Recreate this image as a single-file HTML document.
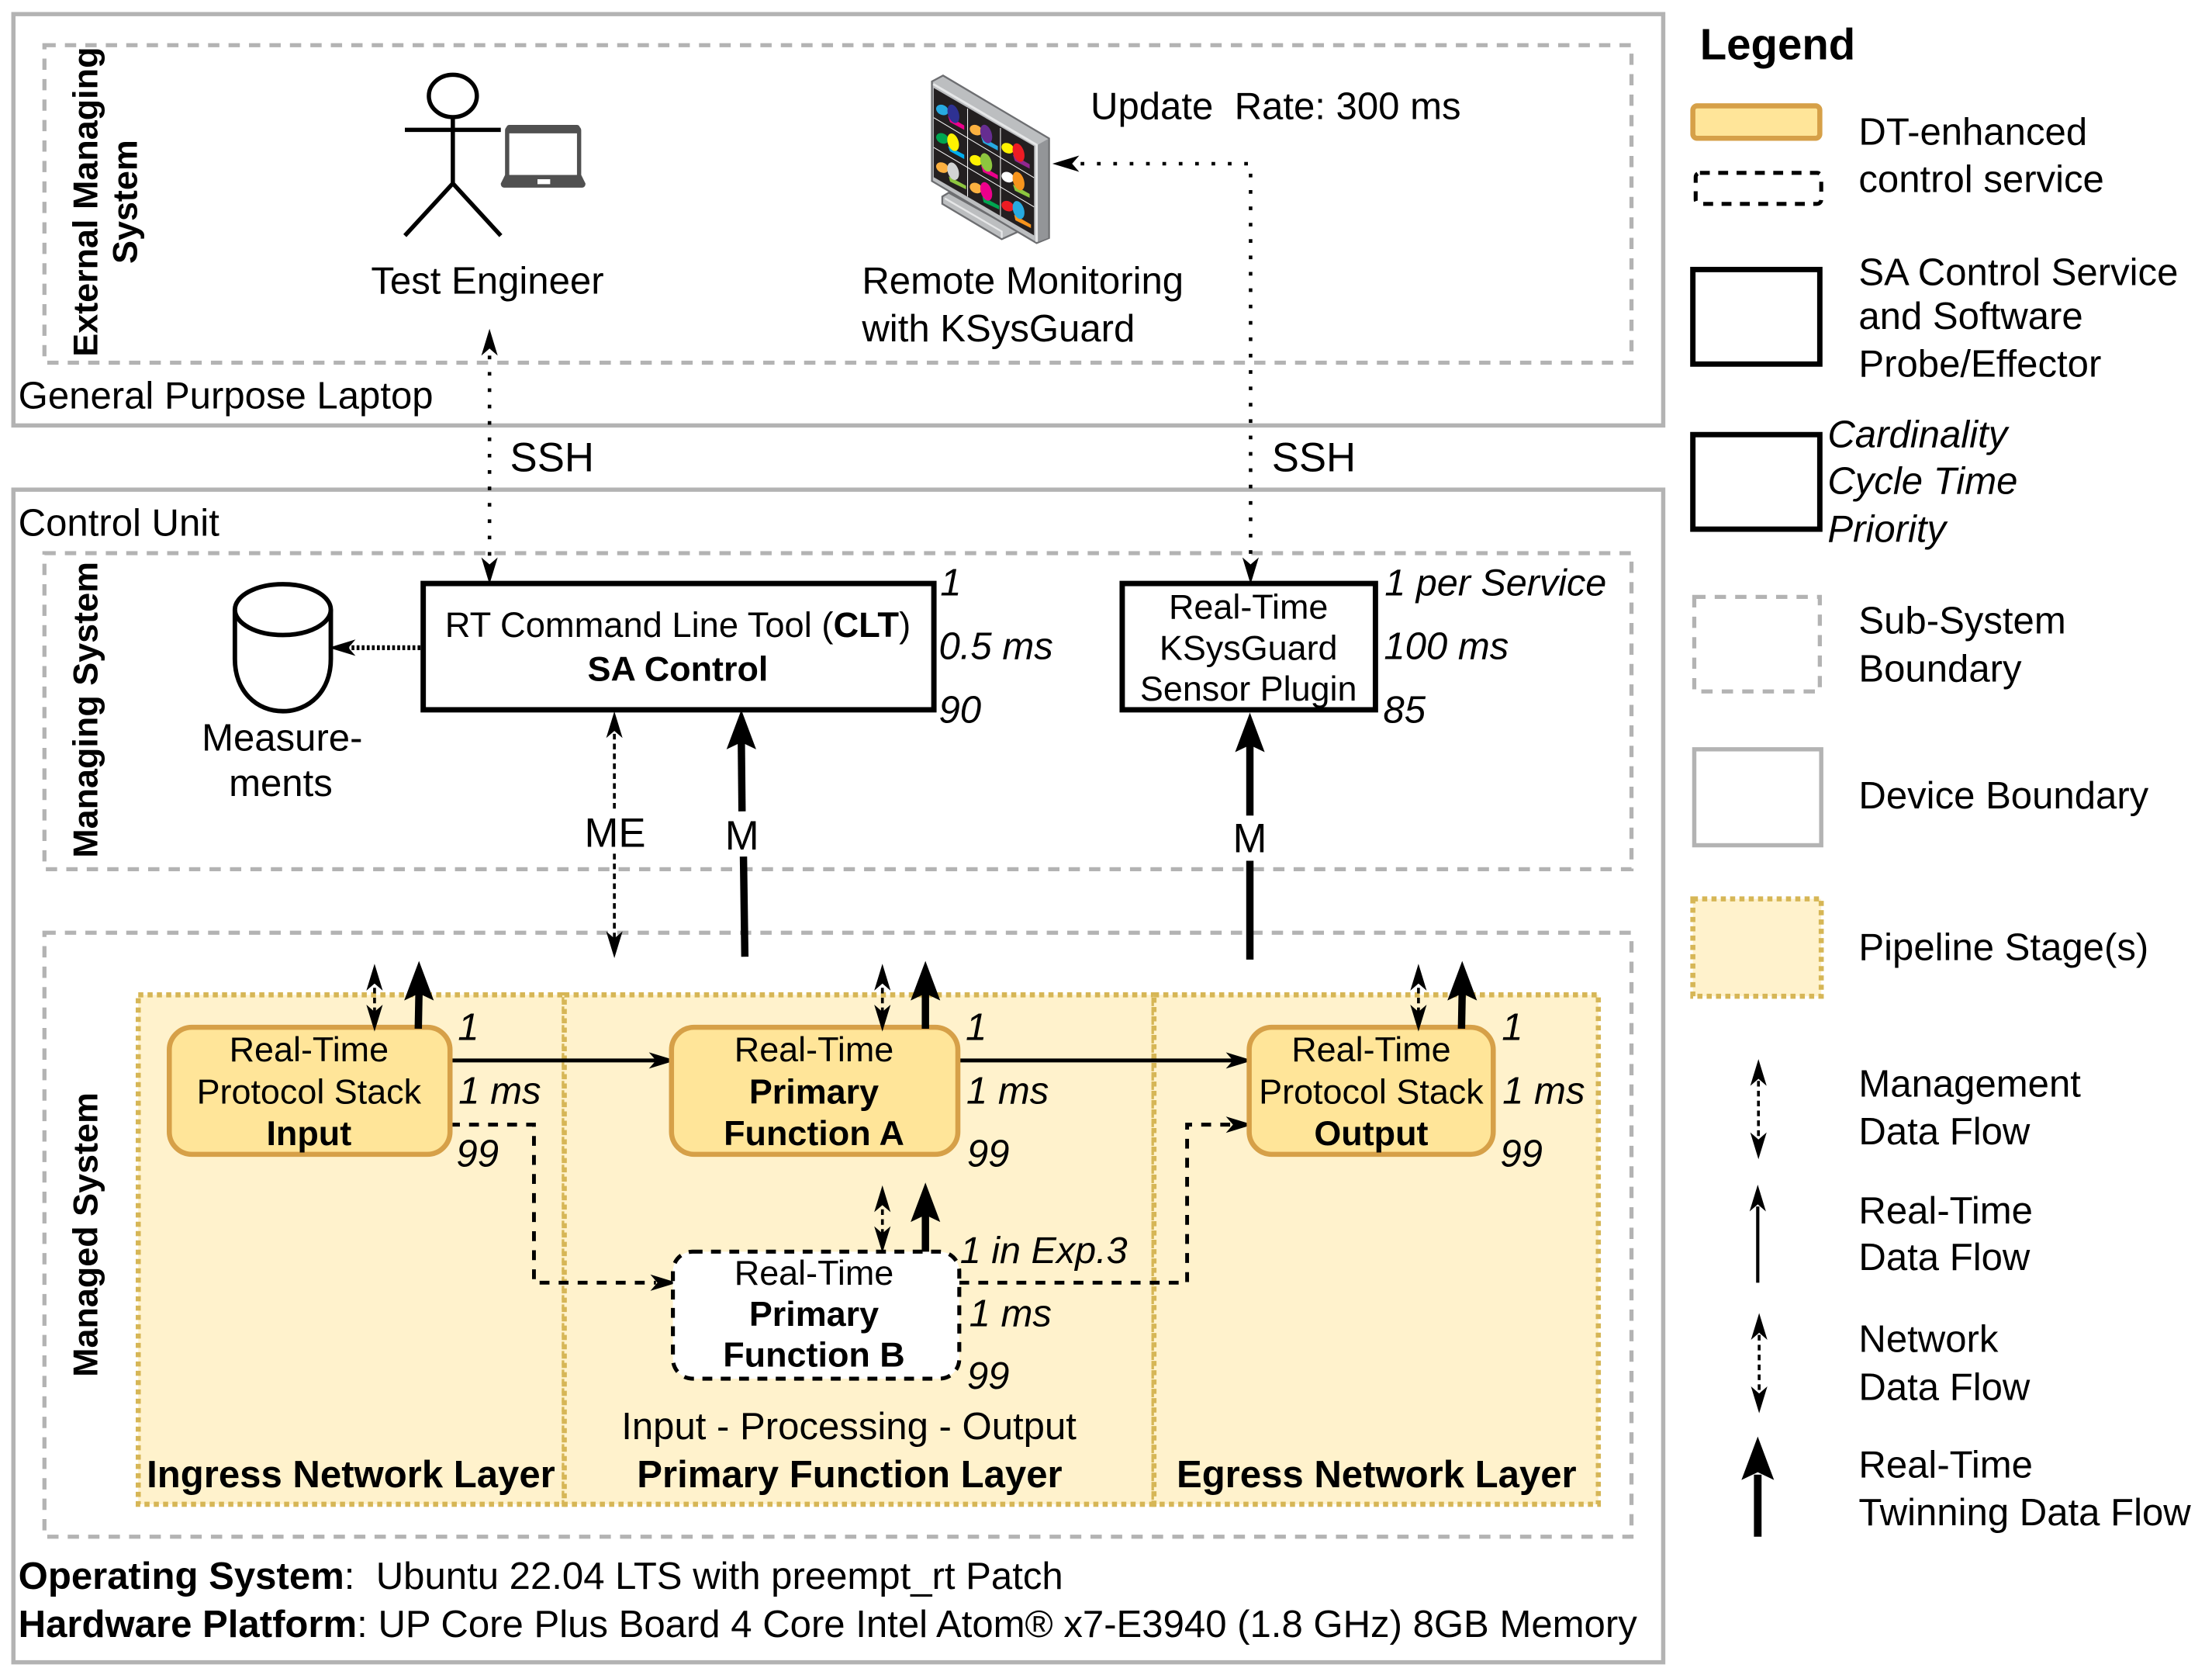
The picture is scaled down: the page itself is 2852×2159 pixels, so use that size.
<!DOCTYPE html>
<html><head><meta charset="utf-8"><style>
html,body{margin:0;padding:0;background:#fff}
svg{display:block}
text{font-family:"Liberation Sans",sans-serif;font-size:27px;fill:#000}
.b{font-weight:bold}
.i{font-style:italic}
.s{font-size:24.7px}
.m{text-anchor:middle}
.gb{fill:none;stroke:#b3b3b3;stroke-width:3}
.gd{fill:none;stroke:#b3b3b3;stroke-width:2.9;stroke-dasharray:8 6.5}
.pl{fill:#fff2cc;stroke:#d6b656;stroke-width:3.6;stroke-dasharray:3.6 3}
.sv{fill:#ffe599;stroke:#d6a048;stroke-width:3.6}
.bk{fill:#fff;stroke:#000;stroke-width:3.8}
.ln{fill:none;stroke:#000;stroke-width:2.7}
.da{fill:none;stroke:#000;stroke-width:2.7;stroke-dasharray:7 6.5}
.dot{fill:none;stroke:#000;stroke-width:2.5;stroke-dasharray:2.6 9}
.me{fill:none;stroke:#000;stroke-width:2;stroke-dasharray:4 3}
.th{fill:none;stroke:#000;stroke-width:5.2}
</style></head><body>
<svg xmlns="http://www.w3.org/2000/svg" width="2852" height="2159" viewBox="0 0 1568 1187">
<defs>
<path id="h" d="M0 0L5.8 19L0 14L-5.8 19Z"/>
<path id="H" d="M0 0L10.5 28L0 23L-10.5 28Z"/>
<g id="dbl"><line class="me" y1="10" y2="38" stroke="#000"/><use href="#h"/><use href="#h" transform="translate(0 48) rotate(180)"/></g>
</defs>
<rect width="1568" height="1187" fill="#fff"/>

<!-- boundaries -->
<rect class="gb" x="9.5" y="10" width="1169.5" height="291.500"/>
<rect class="gd" x="31.5" y="32" width="1125" height="225"/>
<rect class="gb" x="9.5" y="347" width="1169.5" height="831"/>
<rect class="gd" x="31.5" y="392" width="1125" height="224"/>
<rect class="gd" x="31.5" y="661" width="1125" height="428"/>

<!-- pipeline -->
<rect class="pl" x="98" y="705" width="302" height="361"/>
<rect class="pl" x="400" y="705" width="418" height="361"/>
<rect class="pl" x="818" y="705" width="315" height="361"/>

<!-- stick man -->
<g fill="none" stroke="#000" stroke-width="3">
<ellipse cx="321" cy="68" rx="17" ry="15"/>
<path d="M321 83V130M287 92H355M287 167L321 130L355 167"/>
</g>
<!-- laptop -->
<g>
<rect x="359.5" y="90.500" width="51" height="36" rx="2" fill="#fff" stroke="#505050" stroke-width="3"/>
<rect x="359" y="88.500" width="52" height="6" rx="2" fill="#505050"/>
<path d="M358 124H412L415 130Q415 133 412 133H358Q355 133 355 130Z" fill="#505050"/>
<rect x="381" y="127" width="9" height="3.500" fill="#fff"/>
</g>

<!-- monitor (coordinates from 3x crop) -->
<g transform="translate(648.7 44) scale(.18326)">
<path d="M105 520L130 505L400 655L335 685L105 548Z" fill="#bcbec0" stroke="#6d6e71" stroke-width="7"/>
<path d="M115 527L335 655V680" fill="none" stroke="#e6e7e8" stroke-width="7"/>
<path d="M65 75L108 52L518 295V680L470 700L65 460Z" fill="#bcbec0" stroke="#6d6e71" stroke-width="7"/>
<path d="M470 322L515 297V680L475 695Z" fill="#939598"/>
<path d="M70 85L470 320V695" fill="none" stroke="#e6e7e8" stroke-width="9"/>
<path d="M72 100L460 325V670L72 445Z" fill="#231f20"/>
<g stroke="#fff" stroke-width="3" fill="none">
<path d="M203 180V520M330 255V595M72 215L460 447M72 330L460 560"/>
</g>
<g id="c1">
<ellipse cx="105" cy="185" rx="25" ry="19" transform="rotate(28 105 185)" fill="#27aae1"/>
<path d="M127 208L190 245V262L135 232Z" fill="#ec008c"/>
<ellipse cx="148" cy="200" rx="21" ry="37" transform="rotate(-18 148 200)" fill="#2e3192"/>
</g>
<ellipse cx="235" cy="263" rx="25" ry="19" transform="rotate(28 235 263)" fill="#fbb040"/>
<path d="M255 288L320 325V342L263 312Z" fill="#27aae1"/>
<ellipse cx="275" cy="278" rx="21" ry="37" transform="rotate(-18 275 278)" fill="#662d91"/>
<ellipse cx="358" cy="333" rx="25" ry="19" transform="rotate(28 358 333)" fill="#fff200"/>
<path d="M378 358L443 395V412L386 382Z" fill="#92278f"/>
<ellipse cx="400" cy="350" rx="21" ry="37" transform="rotate(-18 400 350)" fill="#ed1c24"/>
<ellipse cx="105" cy="295" rx="25" ry="19" transform="rotate(28 105 295)" fill="#00a651"/>
<path d="M127 325L190 358V375L135 345Z" fill="#00aeef"/>
<ellipse cx="147" cy="310" rx="21" ry="35" transform="rotate(-18 147 310)" fill="#fff200"/>
<ellipse cx="235" cy="380" rx="25" ry="19" transform="rotate(28 235 380)" fill="#fff200"/>
<path d="M255 400L320 437V453L263 425Z" fill="#ec008c"/>
<ellipse cx="275" cy="388" rx="21" ry="37" transform="rotate(-18 275 388)" fill="#8dc63f"/>
<ellipse cx="358" cy="445" rx="25" ry="19" transform="rotate(28 358 445)" fill="#fff"/>
<path d="M378 473L443 510V525L386 497Z" fill="#8dc63f"/>
<ellipse cx="400" cy="460" rx="21" ry="37" transform="rotate(-18 400 460)" fill="#f7941d"/>
<ellipse cx="105" cy="408" rx="25" ry="19" transform="rotate(28 105 408)" fill="#fbb040"/>
<path d="M130 442L197 478V492L135 462Z" fill="#8dc63f"/>
<ellipse cx="147" cy="422" rx="21" ry="35" transform="rotate(-18 147 422)" fill="#d1d3d4"/>
<ellipse cx="235" cy="487" rx="25" ry="19" transform="rotate(28 235 487)" fill="#fbb040"/>
<path d="M260 520L325 555V570L265 542Z" fill="#00a651"/>
<ellipse cx="275" cy="500" rx="21" ry="37" transform="rotate(-18 275 500)" fill="#ec008c"/>
<ellipse cx="358" cy="557" rx="25" ry="19" transform="rotate(28 358 557)" fill="#ed1c24"/>
<path d="M383 590L448 628V642L388 612Z" fill="#f7941d"/>
<ellipse cx="400" cy="572" rx="21" ry="36" transform="rotate(-18 400 572)" fill="#27aae1"/>
</g>

<!-- SSH connectors -->
<line class="dot" x1="347" y1="252" x2="347" y2="400"/>
<use href="#h" transform="translate(347 233)"/>
<use href="#h" transform="translate(347 414) rotate(180)"/>
<path class="dot" d="M766 116H886.500V400"/>
<use href="#h" transform="translate(746 116) rotate(-90)"/>
<use href="#h" transform="translate(886.500 414) rotate(180)"/>

<!-- managing system -->
<rect class="bk" x="300" y="413.500" width="362" height="89.500"/>
<rect class="bk" x="795.500" y="413.500" width="179.500" height="89.500"/>
<g fill="#fff" stroke="#000" stroke-width="3.200">
<path d="M166.500 432V467C166.500 490 182 504 200.500 504C219 504 234.500 490 234.500 467V432"/>
<ellipse cx="200.500" cy="432" rx="34" ry="18"/>
</g>
<line x1="298" y1="459" x2="247" y2="459" stroke="#000" stroke-width="3.400" stroke-dasharray="2 1.600"/>
<use href="#h" transform="translate(233 459) rotate(-90)"/>

<line class="me" x1="435.500" y1="520" x2="435.500" y2="573"/>
<line class="me" x1="435.500" y1="605" x2="435.500" y2="665"/>
<use href="#h" transform="translate(435.500 504)"/>
<use href="#h" transform="translate(435.500 679) rotate(180)"/>

<line class="th" x1="525.500" y1="525" x2="526" y2="575"/>
<use href="#H" transform="translate(525.500 503)"/>
<line class="th" x1="527" y1="607" x2="528" y2="678"/>

<line class="th" x1="886" y1="525" x2="886" y2="578"/>
<use href="#H" transform="translate(886 505)"/>
<line class="th" x1="886" y1="610" x2="886" y2="680"/>

<!-- connectors in managed -->
<line class="ln" x1="319" y1="751.500" x2="465" y2="751.500"/>
<use href="#h" transform="translate(479 751.500) rotate(90)"/>
<line class="ln" x1="679" y1="751.500" x2="874" y2="751.500"/>
<use href="#h" transform="translate(888 751.500) rotate(90)"/>
<path class="da" d="M319 797H378.500V909H465"/>
<use href="#h" transform="translate(480 909) rotate(90)"/>
<path class="da" d="M680 909H841.500V797H874"/>
<use href="#h" transform="translate(888 797) rotate(90)"/>

<!-- services -->
<rect class="sv" x="120" y="728" width="199" height="90" rx="16"/>
<rect class="sv" x="476" y="728" width="203" height="90" rx="16"/>
<rect class="sv" x="885.500" y="728" width="173" height="90" rx="16"/>
<rect x="477" y="887" width="203" height="90" rx="14" fill="#fff" stroke="#000" stroke-width="2.800" stroke-dasharray="7 6"/>

<!-- up arrows on services -->
<use href="#dbl" transform="translate(265.500 683)"/>
<line class="th" x1="297" y1="703" x2="296.500" y2="729"/>
<use href="#H" transform="translate(297 681)"/>
<use href="#dbl" transform="translate(625.500 683)"/>
<line class="th" x1="656" y1="703" x2="656" y2="729"/>
<use href="#H" transform="translate(656 681)"/>
<use href="#dbl" transform="translate(1005.500 683)"/>
<line class="th" x1="1036.500" y1="703" x2="1036" y2="729"/>
<use href="#H" transform="translate(1036.500 681)"/>
<use href="#dbl" transform="translate(625.500 840)"/>
<line class="th" x1="656" y1="860" x2="656" y2="887"/>
<use href="#H" transform="translate(656 838)"/>

<!-- side labels -->
<text class="b" style="font-size:24.700px;text-anchor:middle" transform="translate(69 143) rotate(-90)">External Managing</text>
<text class="b" style="font-size:24.700px;text-anchor:middle" transform="translate(97 143) rotate(-90)">System</text>
<text class="b" style="font-size:24.700px;text-anchor:middle" transform="translate(69 503) rotate(-90)">Managing System</text>
<text class="b" style="font-size:24.700px;text-anchor:middle" transform="translate(69 875) rotate(-90)">Managed System</text>

<!-- top texts -->
<text x="263" y="208">Test Engineer</text>
<text x="611" y="208">Remote Monitoring</text>
<text x="611" y="242">with KSysGuard</text>
<text x="773" y="84.500">Update&#160; Rate: 300 ms</text>
<text x="13" y="289.500">General Purpose Laptop</text>
<text x="361.500" y="334" style="font-size:29px">SSH</text>
<text x="901.500" y="334" style="font-size:29px">SSH</text>
<text x="13" y="379.500">Control Unit</text>

<!-- managing texts -->
<text x="480.500" y="451.500" class="s m" style="font-size:24.900px">RT Command Line Tool (<tspan class="b">CLT</tspan>)</text>
<text x="480.500" y="482.500" class="s m b">SA Control</text>
<text x="885" y="438.500" class="s m">Real-Time</text>
<text x="885" y="467.500" class="s m">KSysGuard</text>
<text x="885" y="496.500" class="s m">Sensor Plugin</text>
<text x="666.500" y="422" class="i">1</text>
<text x="665.500" y="467" class="i">0.5 ms</text>
<text x="665.500" y="512" class="i">90</text>
<text x="981.500" y="422" class="i" style="font-size:26.700px">1 per Service</text>
<text x="981" y="467" class="i">100 ms</text>
<text x="980.500" y="512" class="i">85</text>
<text x="200" y="532" class="m">Measure-</text>
<text x="199" y="564" class="m">ments</text>
<text x="436" y="600" class="m" style="font-size:29px">ME</text>
<text x="526" y="602" class="m" style="font-size:29px">M</text>
<text x="886" y="604" class="m" style="font-size:29px">M</text>

<!-- service texts -->
<text x="219" y="752" class="s m">Real-Time</text>
<text x="219" y="782" class="s m">Protocol Stack</text>
<text x="219" y="811.500" class="s m b">Input</text>
<text x="577" y="752" class="s m">Real-Time</text>
<text x="577" y="782" class="s m b">Primary</text>
<text x="577" y="811.500" class="s m b">Function A</text>
<text x="972" y="752" class="s m">Real-Time</text>
<text x="972" y="782" class="s m">Protocol Stack</text>
<text x="972" y="811.500" class="s m b">Output</text>
<text x="577" y="910.500" class="s m">Real-Time</text>
<text x="577" y="939.500" class="s m b">Primary</text>
<text x="577" y="968.500" class="s m b">Function B</text>

<text x="324.500" y="737" class="i">1</text>
<text x="325" y="782" class="i">1 ms</text>
<text x="323.500" y="826.500" class="i">99</text>
<text x="684.500" y="737" class="i">1</text>
<text x="685" y="782" class="i">1 ms</text>
<text x="685.500" y="826.500" class="i">99</text>
<text x="1064.500" y="737" class="i">1</text>
<text x="1065" y="782" class="i">1 ms</text>
<text x="1063.500" y="826.500" class="i">99</text>
<text x="680.500" y="895" class="i" style="font-size:26.700px">1 in Exp.3</text>
<text x="687" y="940" class="i">1 ms</text>
<text x="685.500" y="984" class="i">99</text>

<text x="440.500" y="1020">Input - Processing - Output</text>
<text x="104" y="1054" class="b">Ingress Network Layer</text>
<text x="451.500" y="1054" class="b">Primary Function Layer</text>
<text x="834" y="1054" class="b">Egress Network Layer</text>

<text x="13" y="1126"><tspan class="b">Operating System</tspan>:&#160; Ubuntu 22.04 LTS with preempt_rt Patch</text>
<text x="13" y="1160"><tspan class="b">Hardware Platform</tspan>: UP Core Plus Board 4 Core Intel Atom® x7-E3940 (1.8 GHz) 8GB Memory</text>

<!-- legend -->
<text x="1205" y="42" class="b" style="font-size:31px">Legend</text>
<rect class="sv" x="1200" y="75" width="90" height="23" rx="3"/>
<rect x="1202" y="122.500" width="89" height="22" rx="3" fill="#fff" stroke="#000" stroke-width="2.800" stroke-dasharray="7 6"/>
<rect class="bk" x="1200" y="191" width="90" height="67"/>
<rect class="bk" x="1200" y="308" width="90" height="67"/>
<rect class="gd" x="1201" y="423" width="89" height="67"/>
<rect class="gb" x="1201" y="531" width="90" height="68"/>
<rect class="pl" x="1200" y="637" width="91" height="69"/>

<text x="1317.500" y="102.500">DT-enhanced</text>
<text x="1317.500" y="136">control service</text>
<text x="1317.500" y="202">SA Control Service</text>
<text x="1317.500" y="233">and Software</text>
<text x="1317.500" y="267">Probe/Effector</text>
<text x="1295.500" y="317" class="i">Cardinality</text>
<text x="1295.500" y="350" class="i">Cycle Time</text>
<text x="1295.500" y="384" class="i">Priority</text>
<text x="1317.500" y="449">Sub-System</text>
<text x="1317.500" y="483">Boundary</text>
<text x="1317.500" y="573">Device Boundary</text>
<text x="1317.500" y="680.500">Pipeline Stage(s)</text>
<text x="1317.500" y="777">Management</text>
<text x="1317.500" y="811">Data Flow</text>
<text x="1317.500" y="867">Real-Time</text>
<text x="1317.500" y="900">Data Flow</text>
<text x="1317.500" y="958">Network</text>
<text x="1317.500" y="992">Data Flow</text>
<text x="1317.500" y="1047">Real-Time</text>
<text x="1317.500" y="1081">Twinning Data Flow</text>

<line class="me" x1="1246.500" y1="766" x2="1246.500" y2="806"/>
<use href="#h" transform="translate(1246.500 750.500)"/>
<use href="#h" transform="translate(1246.500 821.500) rotate(180)"/>
<line x1="1246" y1="855" x2="1246" y2="909" stroke="#000" stroke-width="2.300"/>
<use href="#h" transform="translate(1246 839.500)"/>
<line class="me" x1="1247" y1="946" x2="1247" y2="986"/>
<use href="#h" transform="translate(1247 930.500)"/>
<use href="#h" transform="translate(1247 1001.500) rotate(180)"/>
<line x1="1246" y1="1045" x2="1246" y2="1089" stroke="#000" stroke-width="5.400"/>
<use href="#H" transform="translate(1246 1018) scale(1.100)"/>
</svg>
</body></html>
